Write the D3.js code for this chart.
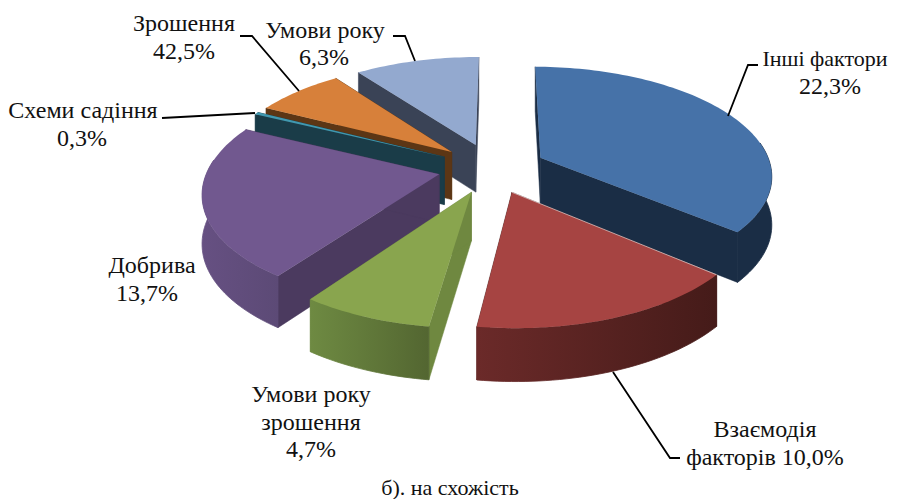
<!DOCTYPE html>
<html>
<head>
<meta charset="utf-8">
<script src="https://cdn.jsdelivr.net/npm/d3@7"></script>
<style>
  html, body { margin: 0; padding: 0; background: #fff; }
  text { font-family: "Liberation Serif", serif; fill: #111; }
</style>
</head>
<body>
<div id="chart"></div>
<script>
// categories in drawing order round the pie, clockwise from the top
const categories = ["Інші фактори", "Взаємодія факторів", "Умови року зрошення", "Добрива", "Схеми садіння", "Зрошення", "Умови року"];
// share of the circle as it looks in the picture (the printed labels differ from it)
const shares = [36.11, 16.0, 7.62, 22.38, 0.36, 7.31, 10.22];
const printed = ["22,3%", "10,0%", "4,7%", "13,7%", "0,3%", "42,5%", "6,3%"];

const topColors = ["#4672a8", "#a64442", "#89a54e", "#71588f", "#4198af", "#d7803a", "#93a9cf"];
const sideColors = ["#1a2d45", "#451b19", "#6f8840", "#4b3a5f", "#1a3c48", "#5c3615", "#3a4356"];
const wallLeft = ["#1a2d45", "#6b2a29", "#6e8a42", "#665082", "#1a3c48", "#5c3615", "#3a4356"];
const wallRight = ["#1a2d45", "#451b19", "#536631", "#5c4a76", "#1a3c48", "#5c3615", "#3a4356"];

const width = 903, height = 499;
const cx = 492, cy = 168, R = 231, tilt = 0.465, persp = 0.15, thick = 48, explode = 0.234;
const firstAngle = 0.3 * Math.PI / 180;

const svg = d3.select("#chart").append("svg")
  .attr("width", width)
  .attr("height", height)
  .style("display", "block");
const defs = svg.append("defs");

// ground coords (radius 1, +y toward the viewer) to the screen
function project(x, y, drop) {
  const w = 1 - persp * y;
  return [cx + x * R / w, cy + y * R * tilt / w + drop * (1 + 1 / w) / 2];
}

const pie = d3.pie().sort(null).startAngle(firstAngle).endAngle(2 * Math.PI + firstAngle);
const slices = pie(shares);
const line = d3.line();

// back slices first so the front ones cover them
const order = [6, 5, 4, 0, 3, 2, 1];

order.forEach(i => {
  const s = slices[i];
  const mid = (s.startAngle + s.endAngle) / 2;
  const ox = Math.sin(mid) * explode, oy = -Math.cos(mid) * explode;
  const n = Math.max(2, Math.ceil((s.endAngle - s.startAngle) * 40));
  const angles = d3.range(n + 1).map(k => s.startAngle + (s.endAngle - s.startAngle) * k / n);
  const rim = drop => angles.map(a => project(ox + Math.sin(a), oy - Math.cos(a), drop));
  const apexTop = project(ox, oy, 0), apexLow = project(ox, oy, thick);
  const rimTop = rim(0), rimLow = rim(thick);
  const g = svg.append("g").attr("class", "slice");

  // the two flat cut walls
  [[rimTop[0], rimLow[0]], [rimTop[n], rimLow[n]]].forEach(e => {
    g.append("path")
      .attr("d", line([apexTop, e[0], e[1], apexLow]) + "Z")
      .attr("fill", sideColors[i])
      .attr("stroke", sideColors[i])
      .attr("stroke-width", 0.5);
  });

  // curved outer wall, only the part that faces the viewer
  const front = d3.range(n + 1).filter(k => -Math.cos(angles[k]) > -0.15);
  if (front.length > 1) {
    const xs = d3.extent(front, k => rimTop[k][0]);
    const id = "wall" + i;
    const grad = defs.append("linearGradient")
      .attr("id", id)
      .attr("gradientUnits", "userSpaceOnUse")
      .attr("x1", xs[0]).attr("x2", xs[1]).attr("y1", 0).attr("y2", 0);
    grad.append("stop").attr("offset", "0%").attr("stop-color", wallLeft[i]);
    grad.append("stop").attr("offset", "100%").attr("stop-color", wallRight[i]);
    const pts = front.map(k => rimTop[k]).concat(front.slice().reverse().map(k => rimLow[k]));
    g.append("path")
      .attr("d", line(pts) + "Z")
      .attr("fill", "url(#" + id + ")")
      .attr("stroke", "url(#" + id + ")")
      .attr("stroke-width", 0.8);
  }

  g.append("path")
    .attr("d", line([apexTop].concat(rimTop)) + "Z")
    .attr("fill", topColors[i]);

  // thin pale edge where the red slice lies over the blue wall
  if (i === 1) {
    g.append("path")
      .attr("d", line([apexTop, rimTop[0]]))
      .attr("fill", "none")
      .attr("stroke", "#fff")
      .attr("stroke-opacity", 0.7)
      .attr("stroke-width", 0.8);
  }
});

// label placement, hand fitted
const labelLines = [
  { lines: ["Інші фактори", "22,3%"], x: [825, 830], y: [66, 94], size: [22, 24] },
  { lines: ["Взаємодія", "факторів 10,0%"], x: [765, 765], y: [437, 465], size: [24, 24] },
  { lines: ["Умови року", "зрошення", "4,7%"], x: [311, 311, 311], y: [402, 430, 457], size: [24, 24, 24] },
  { lines: ["Добрива", "13,7%"], x: [152, 147], y: [273, 301], size: [24, 24] },
  { lines: ["Схеми садіння", "0,3%"], x: [83, 82], y: [118, 146], size: [24, 24] },
  { lines: ["Зрошення", "42,5%"], x: [184, 184], y: [31, 59], size: [24, 24] },
  { lines: ["Умови року", "6,3%"], x: [325, 324], y: [38, 65], size: [24, 24] }
];
labelLines.forEach(l => {
  l.lines.forEach((t, j) => {
    svg.append("text")
      .attr("x", l.x[j])
      .attr("y", l.y[j])
      .attr("text-anchor", "middle")
      .attr("font-size", l.size[j])
      .text(t);
  });
});

svg.append("text")
  .attr("x", 450)
  .attr("y", 495)
  .attr("text-anchor", "middle")
  .attr("font-size", 22)
  .text("б). на схожість");

// leader lines
const leaders = [
  [[728, 116], [748, 65], [758, 65]],
  [[613, 372], [670, 458], [680, 458]],
  [[255, 113], [162, 118]],
  [[299, 91], [252, 36], [240, 36]],
  [[415, 61], [405, 36], [393, 36]]
];
leaders.forEach(p => {
  svg.append("path")
    .attr("d", line(p))
    .attr("fill", "none")
    .attr("stroke", "#000")
    .attr("stroke-width", 1.8);
});
</script>
</body>
</html>
